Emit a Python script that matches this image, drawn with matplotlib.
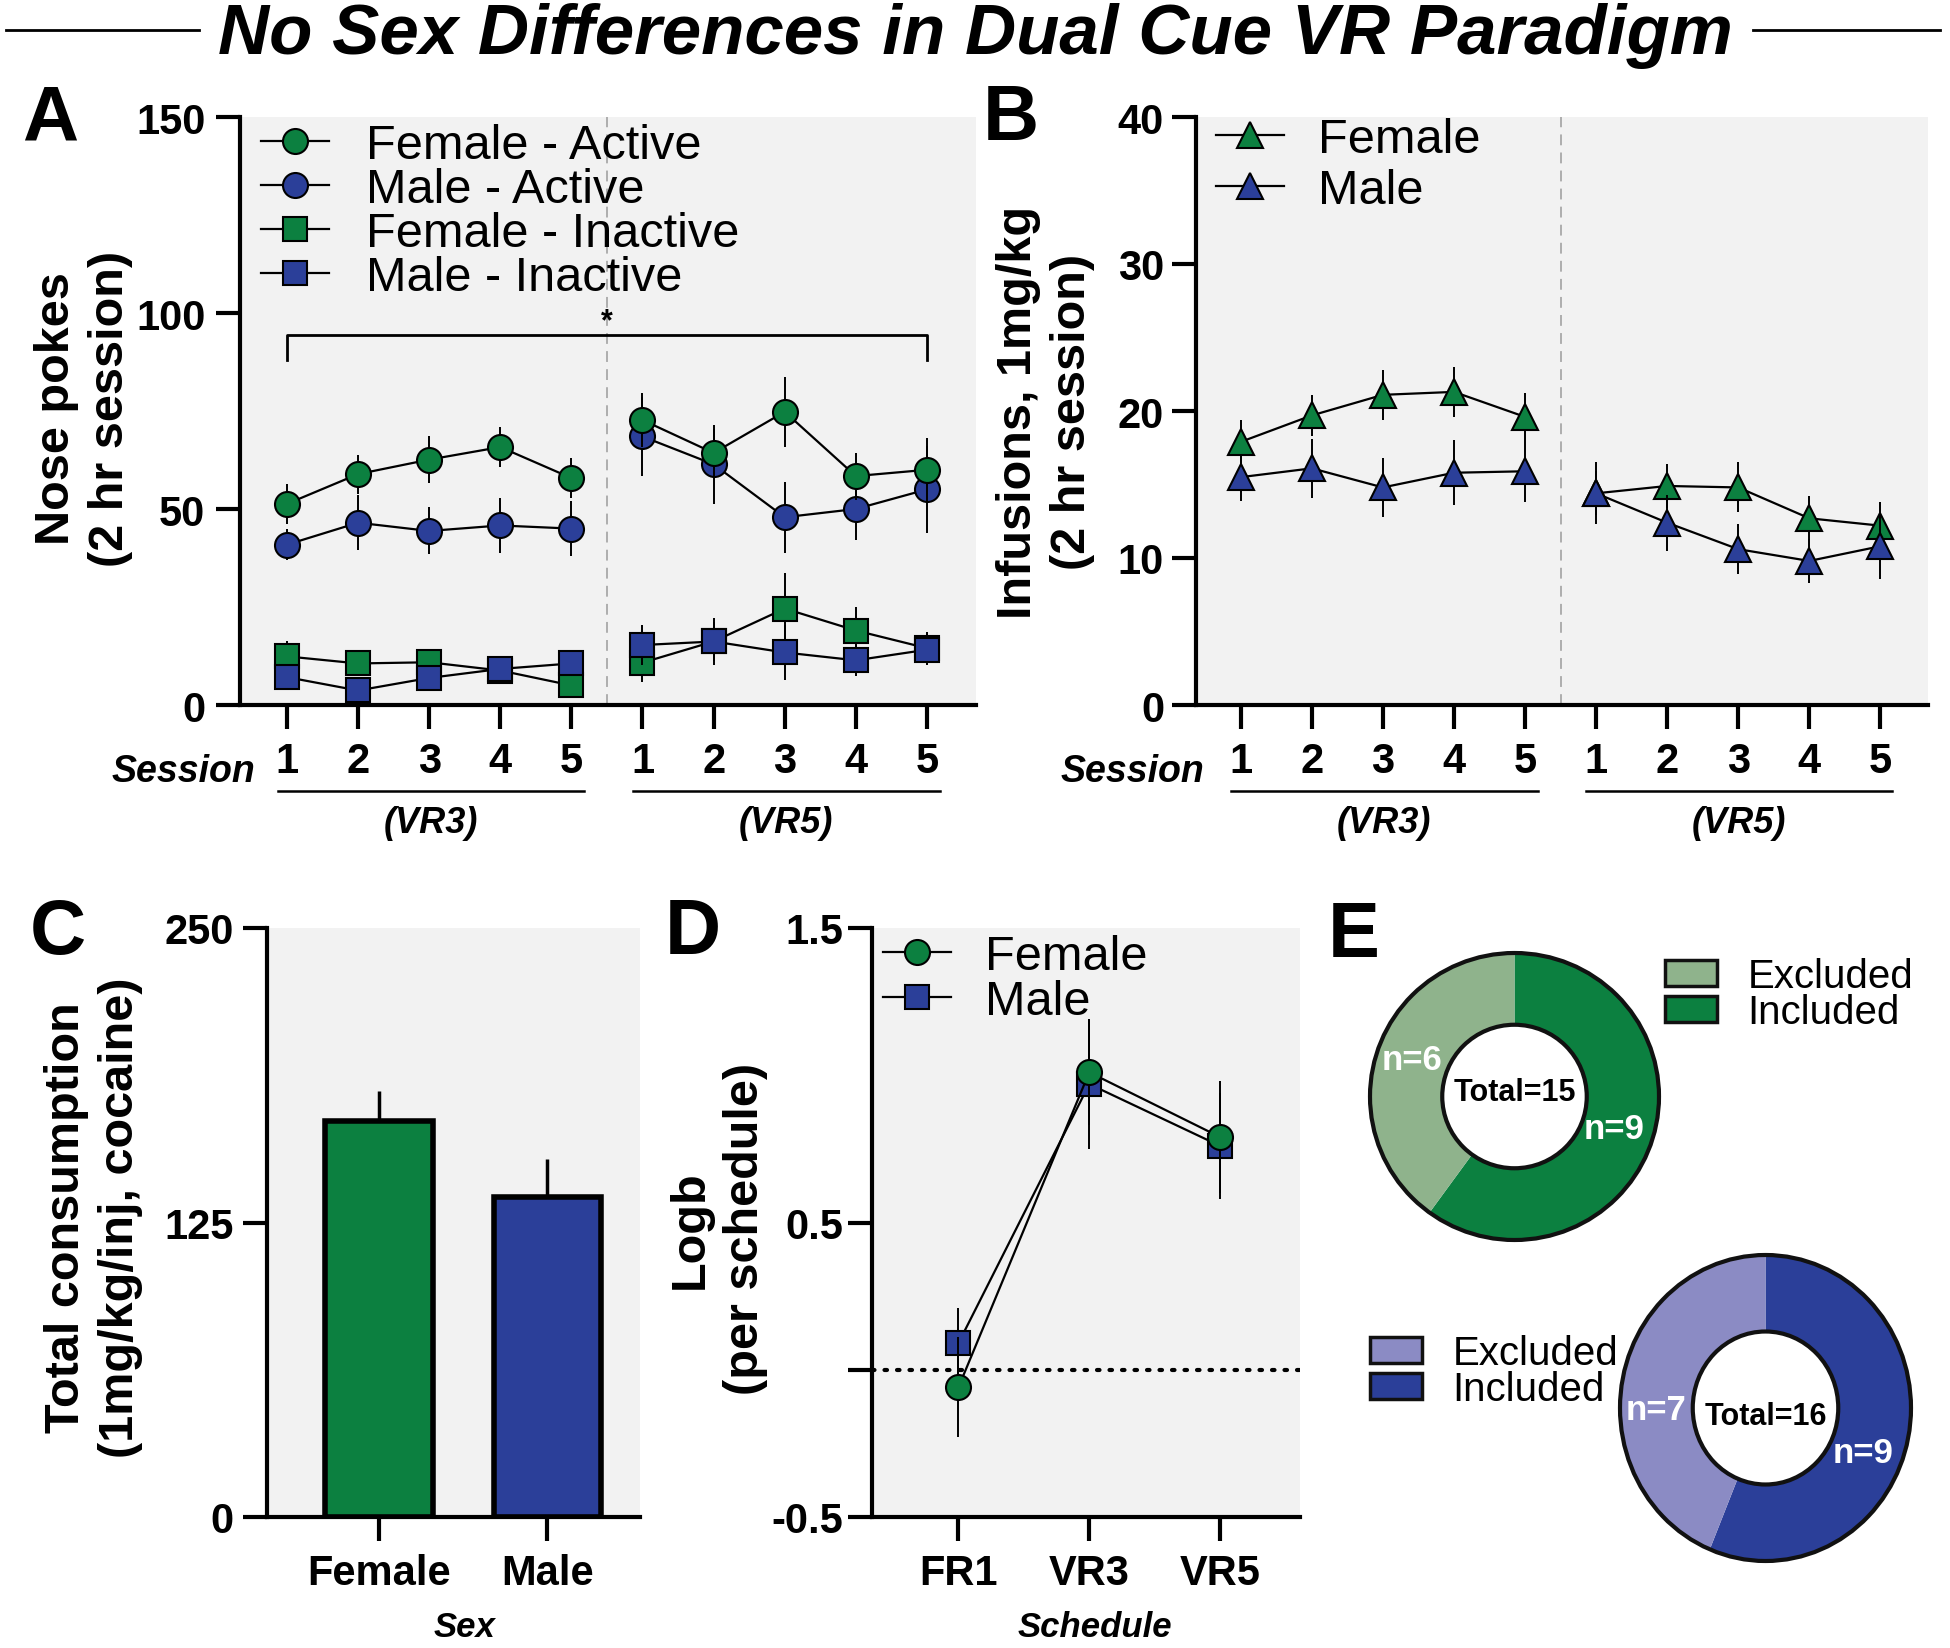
import numpy as np
import matplotlib
matplotlib.use('Agg')
import matplotlib.pyplot as plt
from matplotlib.lines import Line2D
from matplotlib.patches import Patch, Circle

plt.rcParams['font.family'] = ['Liberation Sans', 'DejaVu Sans']

# ---- data ----
sessions = [1, 2, 3, 4, 5, 6, 7, 8, 9, 10]
session_labels = ['1', '2', '3', '4', '5', '1', '2', '3', '4', '5']

fem_active = [51.3, 58.9, 62.6, 65.8, 57.9, 72.7, 64.3, 74.8, 58.4, 60.0]
fem_active_err = [5, 5, 6, 5, 5, 7, 6, 9, 6, 8]
male_active = [40.9, 46.5, 44.4, 45.8, 45.0, 68.5, 61.4, 47.9, 50.0, 55.0]
male_active_err = [4, 7, 6, 7, 7, 10, 10, 9, 8, 11]
fem_inactive = [12.4, 10.6, 10.9, 8.8, 5.0, 10.8, 16.2, 24.6, 19.0, 14.5]
fem_inactive_err = [4, 3, 3, 3, 3, 5, 6, 9, 6, 4]
male_inactive = [7.1, 3.7, 6.9, 9.2, 10.6, 15.3, 16.2, 13.4, 11.4, 14.1]
male_inactive_err = [3, 2, 3, 3, 3, 5, 5, 7, 4, 4]

fem_inf = [17.9, 19.7, 21.1, 21.3, 19.6, 14.4, 14.9, 14.8, 12.7, 12.2]
fem_inf_err = [1.5, 1.4, 1.7, 1.7, 1.6, 2.1, 1.5, 1.7, 1.5, 1.6]
male_inf = [15.5, 16.1, 14.8, 15.8, 15.9, 14.4, 12.4, 10.6, 9.8, 10.8]
male_inf_err = [1.6, 2.0, 2.0, 2.2, 2.1, 1.5, 1.9, 1.7, 1.5, 2.2]

sexes = ['Female', 'Male']
consumption = [168, 136]
consumption_err = [13, 16]

schedules = ['FR1', 'VR3', 'VR5']
fem_logb = [-0.06, 1.01, 0.79]
fem_logb_err = [0.17, 0.18, 0.19]
male_logb = [0.09, 0.97, 0.76]
male_logb_err = [0.12, 0.22, 0.18]

fem_counts = [9, 6]    # included, excluded
male_counts = [9, 7]

GREEN = '#0c8040'
BLUE = '#2b3f99'
LGREEN = '#8fb38c'
LBLUE = '#8b8bc4'
BG = '#f2f2f2'

W, H = 1950, 1649
fig = plt.figure(figsize=(W / 100, H / 100), dpi=100)


def box(x0, y0, x1, y1):
    return [x0 / W, 1 - y1 / H, (x1 - x0) / W, (y1 - y0) / H]


def fpos(x, y):
    return x / W, 1 - y / H


def style(ax, ypad):
    ax.set_facecolor(BG)
    for s in ['top', 'right']:
        ax.spines[s].set_visible(False)
    for s in ['left', 'bottom']:
        ax.spines[s].set_linewidth(3)
    ax.tick_params(width=3, length=17, labelsize=30)
    ax.tick_params(axis='y', pad=ypad)
    ax.tick_params(axis='x', pad=9)
    for t in ax.get_xticklabels() + ax.get_yticklabels():
        t.set_fontweight('bold')


def draw_series(ax, x, vals, errs, marker, color, z, ms=18, split=True):
    x = np.asarray(x)
    vals = np.asarray(vals)
    ax.errorbar(x, vals, errs, fmt='none', ecolor='black', elinewidth=1.4, zorder=z - 0.5)
    segs = [slice(0, 5), slice(5, 10)] if split else [slice(None)]
    for seg in segs:
        ax.plot(x[seg], vals[seg], color='black', lw=1.6, marker=marker, ms=ms,
                mfc=color, mec='black', mew=1.5, zorder=z, clip_on=False)


def handle(marker, color, ms=18):
    return Line2D([], [], color='black', lw=1.6, marker=marker, ms=ms,
                  mfc=color, mec='black', mew=1.5)


# ---- title ----
fig.text(*fpos(975, 36), 'No Sex Differences in Dual Cue VR Paradigm', ha='center', va='center',
         fontsize=51, fontweight='bold', style='italic')
fig.add_artist(Line2D([6 / W, 199 / W], [1 - 31 / H] * 2, color='black', lw=2))
fig.add_artist(Line2D([1753 / W, 1940 / W], [1 - 31 / H] * 2, color='black', lw=2))

# ---- panel letters ----
for letter, (lx, ly) in zip('ABCDE', [(22, 83), (983, 83), (30, 897), (665, 897), (1328, 900)]):
    fig.text(*fpos(lx, ly), letter, fontsize=56, fontweight='bold', ha='left', va='top')


def session_axis(ax, left_x, right_x):
    ax.set_xticks(sessions)
    ax.set_xticklabels(session_labels)
    for t in ax.get_xticklabels():
        t.set_fontweight('bold')
    ax.axvline(5.5, color='#a8a8a8', lw=1.3, ls=(0, (6, 4)), zorder=0.5)
    tr = ax.get_xaxis_transform()
    for (a, b), lab in zip([(left_x, 5.18), (5.86, right_x)], ['(VR3)', '(VR5)']):
        ax.plot([a, b], [-0.146, -0.146], color='black', lw=1.8, transform=tr, clip_on=False)
        ax.text((a + b) / 2, -0.199, lab, transform=tr, ha='center', va='center',
                fontsize=26, fontweight='bold', style='italic')


YLAB = dict(fontsize=35, fontweight='bold', linespacing=1.27)

# ---- A ----
axA = fig.add_axes(box(240, 118, 976, 706))
style(axA, 8)
axA.set_xlim(0.34, 10.69)
axA.set_ylim(0, 150)
axA.set_yticks([0, 50, 100, 150])
draw_series(axA, sessions, male_active, male_active_err, 'o', BLUE, 3)
draw_series(axA, sessions, fem_active, fem_active_err, 'o', GREEN, 4)
draw_series(axA, sessions, fem_inactive, fem_inactive_err, 's', GREEN, 5, ms=17)
draw_series(axA, sessions, male_inactive, male_inactive_err, 's', BLUE, 6, ms=17)
session_axis(axA, 0.88, 10.18)
axA.plot([1, 1, 10, 10], [88, 94.5, 94.5, 88], color='black', lw=2)
axA.text(5.5, 94.0, '*', ha='center', va='bottom', fontsize=22, fontweight='bold')
axA.set_ylabel('Nose pokes\n(2 hr session)', **YLAB)
axA.yaxis.set_label_coords(-0.145, 0.505)
axA.legend([handle('o', GREEN), handle('o', BLUE), handle('s', GREEN, 17), handle('s', BLUE, 17)],
           ['Female - Active', 'Male - Active', 'Female - Inactive', 'Male - Inactive'],
           loc='upper left', bbox_to_anchor=(0.029, 0.99), frameon=False, fontsize=35,
           handlelength=1.4, handletextpad=0.75, labelspacing=-0.02, borderpad=0, borderaxespad=0)
fig.text(*fpos(255, 772), 'Session', ha='right', va='center', fontsize=27,
         fontweight='bold', style='italic')

# ---- B ----
axB = fig.add_axes(box(1196, 118, 1928, 706))
style(axB, 6)
axB.set_xlim(0.37, 10.67)
axB.set_ylim(0, 40)
axB.set_yticks([0, 10, 20, 30, 40])
draw_series(axB, sessions, fem_inf, fem_inf_err, '^', GREEN, 4, ms=19)
draw_series(axB, sessions, male_inf, male_inf_err, '^', BLUE, 5, ms=19)
session_axis(axB, 0.86, 10.16)
axB.set_ylabel('Infusions, 1mg/kg\n(2 hr session)', **YLAB)
axB.yaxis.set_label_coords(-0.138, 0.5)
axB.legend([handle('^', GREEN, 19), handle('^', BLUE, 19)], ['Female', 'Male'],
           loc='upper left', bbox_to_anchor=(0.027, 1.0), frameon=False, fontsize=35,
           handlelength=1.4, handletextpad=0.7, labelspacing=0.13, borderpad=0, borderaxespad=0)
fig.text(*fpos(1204, 772), 'Session', ha='right', va='center', fontsize=27,
         fontweight='bold', style='italic')

# ---- C ----
axC = fig.add_axes(box(267, 929, 640, 1518))
style(axC, 7)
xc = np.arange(len(sexes))
axC.bar(xc, consumption, width=0.64, color=[GREEN, BLUE], edgecolor='black', linewidth=4, zorder=2)
axC.errorbar(xc, consumption, [[0, 0], consumption_err], fmt='none', ecolor='black',
             elinewidth=2.5, zorder=1)
axC.set_xlim(-0.667, 1.55)
axC.set_ylim(0, 250)
axC.set_yticks([0, 125, 250])
axC.set_xticks(xc)
axC.set_xticklabels(sexes)
for t in axC.get_xticklabels():
    t.set_fontweight('bold')
axC.set_ylabel('Total consumption\n(1mg/kg/inj, cocaine)', **YLAB)
axC.yaxis.set_label_coords(-0.332, 0.51)
axC.set_xlabel('Sex', fontsize=25, fontweight='bold', style='italic')
axC.xaxis.set_label_coords(0.53, -0.158)

# ---- D ----
axD = fig.add_axes(box(872, 929, 1300, 1518))
style(axD, 4)
xd = np.arange(len(schedules))
axD.axhline(0, color='black', lw=3, ls=(0, (0.6, 2.4)), dash_capstyle='round', zorder=1)
draw_series(axD, xd, male_logb, male_logb_err, 's', BLUE, 3, ms=17, split=False)
draw_series(axD, xd, fem_logb, fem_logb_err, 'o', GREEN, 4, ms=18, split=False)
axD.set_xlim(-0.66, 2.61)
axD.set_ylim(-0.5, 1.5)
axD.set_yticks([-0.5, 0, 0.5, 1.5])
axD.set_yticklabels(['-0.5', '', '0.5', '1.5'])
axD.set_xticks(xd)
axD.set_xticklabels(schedules)
for t in axD.get_xticklabels() + axD.get_yticklabels():
    t.set_fontweight('bold')
axD.set_ylabel('Logb\n(per schedule)', **YLAB)
axD.yaxis.set_label_coords(-0.244, 0.49)
axD.set_xlabel('Schedule', fontsize=25, fontweight='bold', style='italic')
axD.xaxis.set_label_coords(0.52, -0.158)
axD.legend([handle('o', GREEN), handle('s', BLUE, 17)], ['Female', 'Male'],
           loc='upper left', bbox_to_anchor=(0.025, 0.99), frameon=False, fontsize=35,
           handlelength=1.4, handletextpad=0.7, labelspacing=0.0, borderpad=0, borderaxespad=0)


# ---- E ----
def donut(rect, counts, colors, total, lab_pos, total_y):
    ax = fig.add_axes(box(*rect))
    ax.pie(counts, colors=colors, startangle=90, counterclock=False, radius=1,
           wedgeprops=dict(width=0.5, linewidth=0))
    ax.set_aspect('auto')
    ax.set_xlim(-1, 1)
    ax.set_ylim(-1, 1)
    for r in (1, 0.5):
        ax.add_patch(Circle((0, 0), r, fill=False, lw=3, ec='#111111', clip_on=False))
    for n, (px, py) in zip(counts, lab_pos):
        ax.text(px, py, f'n={n}', color='white', ha='center', va='center',
                fontsize=25, fontweight='bold')
    ax.text(0, total_y, f'Total={total}', ha='center', va='center', fontsize=22, fontweight='bold')
    return ax


donut((1370, 954, 1659, 1241), fem_counts, [GREEN, LGREEN], sum(fem_counts),
      [(0.69, -0.22), (-0.71, 0.26)], 0.03)
donut((1620, 1256, 1911, 1562), male_counts, [BLUE, LBLUE], sum(male_counts),
      [(0.67, -0.29), (-0.75, -0.01)], -0.05)


def donut_legend(x, y, colors):
    hs = [Patch(facecolor=c, edgecolor='#111111', linewidth=2.5) for c in colors]
    fig.legend(hs, ['Excluded', 'Included'], loc='upper left', bbox_to_anchor=fpos(x, y),
               frameon=False, fontsize=29, handlelength=1.3, handleheight=0.6,
               handletextpad=0.75, labelspacing=-0.05, borderpad=0, borderaxespad=0)


donut_legend(1665, 958, [LGREEN, GREEN])
donut_legend(1370, 1335, [LBLUE, BLUE])

fig.savefig('out.png', dpi=100, facecolor='white')
